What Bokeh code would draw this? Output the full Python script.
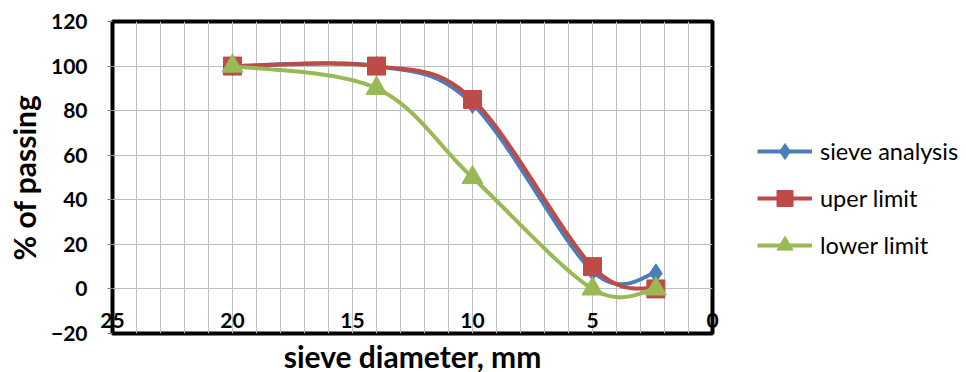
import numpy as np
from bokeh.plotting import figure
from bokeh.models import Range1d, SingleIntervalTicker, Legend, LegendItem, FixedTicker
from bokeh.embed import file_html
from bokeh.resources import INLINE

# ---- data ----
sieve_mm = [20, 14, 10, 5, 2.36]
sieve_analysis = [100, 100, 83, 8, 7]
upper_limit = [100, 100, 85, 10, 0]
lower_limit = [100, 90, 50, 0, 0]
series_names = ["sieve analysis", "uper limit", "lower limit"]
x_ticks = [25, 20, 15, 10, 5, 0]
y_ticks = [-20, 0, 20, 40, 60, 80, 100, 120]

FONT = "Lato"


def smooth(xs, ys, n=40):
    """Excel-like smoothed line: cubic Bezier with Catmull-Rom control points."""
    pts = np.column_stack([xs, ys]).astype(float)
    m = len(pts)
    out = []
    for i in range(m - 1):
        p0 = pts[i - 1] if i > 0 else pts[i]
        p1 = pts[i]
        p2 = pts[i + 1]
        p3 = pts[i + 2] if i + 2 < m else pts[i + 1]
        c1 = p1 + (p2 - p0) / 6.0
        c2 = p2 - (p3 - p1) / 6.0
        t = np.linspace(0, 1, n)[:, None]
        seg = ((1 - t) ** 3) * p1 + 3 * ((1 - t) ** 2) * t * c1 + 3 * (1 - t) * t ** 2 * c2 + t ** 3 * p2
        out.append(seg if i == 0 else seg[1:])
    arr = np.vstack(out)
    return arr[:, 0], arr[:, 1]


p = figure(frame_width=600, frame_height=312, output_backend="svg", toolbar_location=None,
           x_range=Range1d(25, 0), y_range=Range1d(-20, 120),
           min_border_left=112, min_border_right=254, min_border_top=21, min_border_bottom=39)
p.background_fill_color = "white"
p.border_fill_color = "white"
p.outline_line_color = "black"
p.outline_line_width = 4

# grids
p.xgrid.ticker = SingleIntervalTicker(interval=1)
p.ygrid.ticker = FixedTicker(ticks=y_ticks)
for g in (p.xgrid, p.ygrid):
    g.grid_line_color = "#BFBFBF"
    g.grid_line_width = 1

# axes
p.xaxis.ticker = FixedTicker(ticks=x_ticks)
p.xaxis.axis_line_color = None
p.xaxis.major_tick_line_color = None
p.xaxis.minor_tick_line_color = None
p.xaxis.major_label_standoff = -27
p.xaxis.major_label_text_font = FONT
p.xaxis.major_label_text_font_style = "bold"
p.xaxis.major_label_text_font_size = "21px"
p.xaxis.major_label_text_color = "black"
p.xaxis.axis_label = "sieve diameter, mm"
p.xaxis.axis_label_text_font = FONT
p.xaxis.axis_label_text_font_style = "bold"
p.xaxis.axis_label_text_font_size = "30px"
p.xaxis.axis_label_text_color = "black"
p.xaxis.axis_label_standoff = 7

p.yaxis.ticker = FixedTicker(ticks=y_ticks)
p.yaxis.axis_line_color = None
p.yaxis.major_tick_line_color = "#808080"
p.yaxis.major_tick_out = 5
p.yaxis.major_tick_in = 0
p.yaxis.minor_tick_line_color = None
p.yaxis.major_label_standoff = 20
p.yaxis.major_label_text_font = FONT
p.yaxis.major_label_text_font_style = "bold"
p.yaxis.major_label_text_font_size = "21px"
p.yaxis.major_label_text_color = "black"
p.yaxis.axis_label = "% of passing"
p.yaxis.axis_label_text_font = FONT
p.yaxis.axis_label_text_font_style = "bold"
p.yaxis.axis_label_text_font_size = "30px"
p.yaxis.axis_label_text_color = "black"
p.yaxis.axis_label_standoff = 6

colors = ["#4A7EBB", "#BE4B48", "#98B954"]
markers = ["diamond", "square", "triangle"]
sizes = [19, 18, 21]
data = [sieve_analysis, upper_limit, lower_limit]

items = []
for name, ys, c, mk, sz in zip(series_names, data, colors, markers, sizes):
    sx, sy = smooth(sieve_mm, ys)
    r1 = p.line(sx, sy, line_color=c, line_width=4)
    r2 = p.scatter(sieve_mm, ys, marker=mk, size=sz, fill_color=c, line_color=c)
    items.append(LegendItem(label=name, renderers=[r1, r2]))

legend = Legend(items=items, location=(45, 68), border_line_color=None,
                background_fill_alpha=0, label_text_font=FONT, label_text_color="black",
                label_text_font_size="23.5px", glyph_width=55, glyph_height=40,
                spacing=7, margin=0, padding=0, label_standoff=8)
p.add_layout(legend, "right")

open("out.html", "w").write(file_html(p, INLINE))
